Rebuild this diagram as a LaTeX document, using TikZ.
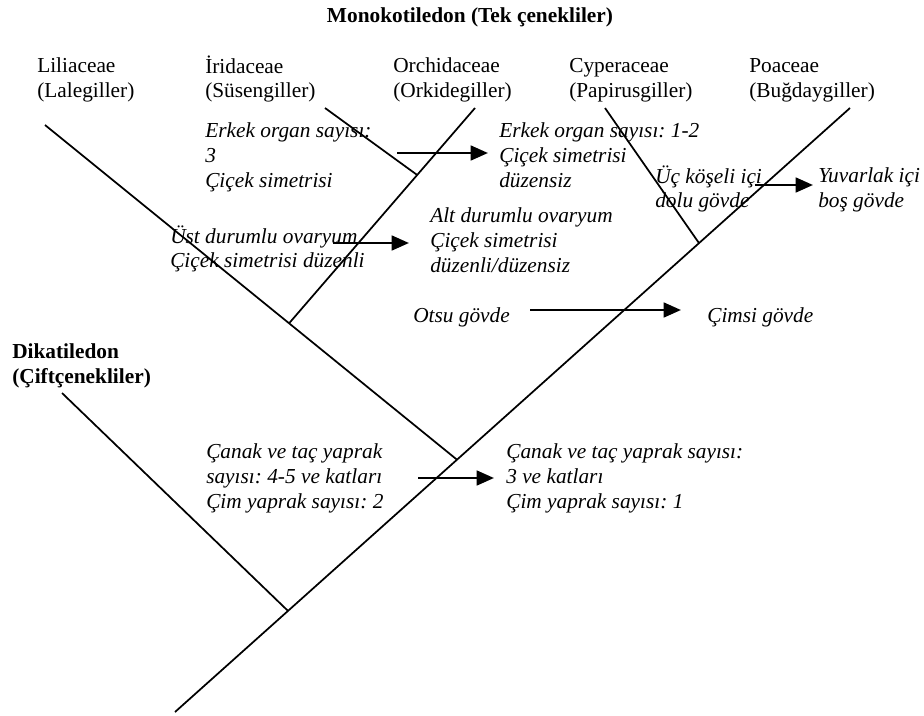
\documentclass[tikz,border=0pt]{standalone}
\usepackage{fontspec}
\setmainfont{Liberation Serif}
\usetikzlibrary{arrows.meta}
\frenchspacing
\begin{document}
\begin{tikzpicture}[x=0.75pt,y=-0.75pt,
  lbl/.style={anchor=north west,inner sep=0pt,align=left,font=\fontsize{16}{18.4}\selectfont},
  itl/.style={lbl,font=\fontsize{16}{18.4}\selectfont\itshape},
  bld/.style={lbl,font=\fontsize{16}{18.4}\selectfont\bfseries},
  branch/.style={draw,line width=1.3pt},
  harrow/.style={draw,line width=2pt,-{Triangle[length=13pt,width=11pt]}}]
\useasboundingbox (0,0) rectangle (924,715);
% tree coordinates
\coordinate (T0) at (175,712);
\coordinate (Tpo) at (850,108);
\coordinate (J1) at (288,610.9);
\coordinate (D) at (62,393);
\coordinate (J2) at (457,459.7);
\coordinate (L) at (45,125);
\coordinate (J3) at (289,323.4);
\coordinate (O) at (475,108);
\coordinate (J4) at (417.2,175);
\coordinate (I) at (325,108);
\coordinate (J5) at (699,243.1);
\coordinate (C) at (605,108);
\path[branch] (T0) -- (Tpo);
\path[branch] (D) -- (J1);
\path[branch] (L) -- (J2);
\path[branch] (J3) -- (O);
\path[branch] (I) -- (J4);
\path[branch] (C) -- (J5);
% labels
\node[bld,anchor=base] (title) at (470,22) {Monokotiledon (Tek çenekliler)};
\node[lbl] (lil) at (37,55.5) {\strut Liliaceae\\(Lalegiller)};
\node[lbl] (iri) at (205,55.5) {\strut İridaceae\\(Süsengiller)};
\node[lbl] (orc) at (393,55.5) {\strut Orchidaceae\\(Orkidegiller)};
\node[lbl] (cyp) at (569,55.5) {\strut Cyperaceae\\(Papirusgiller)};
\node[lbl] (poa) at (749,55.5) {\strut Poaceae\\(Buğdaygiller)};
\node[itl] (t1) at (205,120.5) {\strut Erkek organ sayısı:\\3\\Çiçek simetrisi};
\node[itl] (t2) at (499,120.5) {\strut Erkek organ sayısı: 1-2\\Çiçek simetrisi\\düzensiz};
\node[itl] (t3) at (655,165.5) {\strut Üç köşeli içi\\dolu gövde};
\node[itl] (t4) at (818,165.5) {\strut Yuvarlak içi\\boş gövde};
\node[itl] (t5) at (170,225.5) {\strut Üst durumlu ovaryum\\Çiçek simetrisi düzenli};
\node[itl] (t6) at (430,205.5) {\strut Alt durumlu ovaryum\\Çiçek simetrisi\\düzenli/düzensiz};
\node[itl] (t7) at (413,305.5) {\strut Otsu gövde};
\node[itl] (t8) at (707,305.5) {\strut Çimsi gövde};
\node[bld] (dika) at (12,341.5) {\strut Dikatiledon\\(Çiftçenekliler)};
\node[itl] (t9) at (206,441.5) {\strut Çanak ve taç yaprak\\sayısı: 4-5 ve katları\\Çim yaprak sayısı: 2};
\node[itl] (t10) at (506,441.5) {\strut Çanak ve taç yaprak sayısı:\\3 ve katları\\Çim yaprak sayısı: 1};
% arrows
\coordinate (a1s) at (397,153); \coordinate (a1e) at (488,153);
\coordinate (a2s) at (333,243); \coordinate (a2e) at (409,243);
\coordinate (a3s) at (530,310); \coordinate (a3e) at (681,310);
\coordinate (a4s) at (755,185); \coordinate (a4e) at (813,185);
\coordinate (a5s) at (418,478); \coordinate (a5e) at (494,478);
\path[harrow] (a1s) -- (a1e);
\path[harrow] (a2s) -- (a2e);
\path[harrow] (a3s) -- (a3e);
\path[harrow] (a4s) -- (a4e);
\path[harrow] (a5s) -- (a5e);
\end{tikzpicture}
\end{document}
